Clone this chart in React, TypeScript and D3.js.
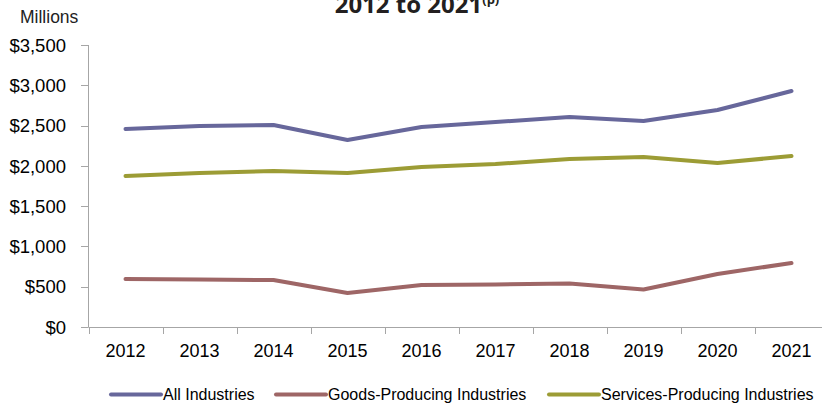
import React from "react";
import * as d3 from "d3";

const years = ["2012", "2013", "2014", "2015", "2016", "2017", "2018", "2019", "2020", "2021"];
const allIndustries = [2457, 2495, 2507, 2321, 2482, 2544, 2606, 2557, 2693, 2929];
const goodsProducing = [596, 590, 583, 422, 521, 527, 540, 465, 658, 794];
const servicesProducing = [1874, 1911, 1936, 1911, 1986, 2023, 2085, 2110, 2035, 2122];
const yTicks = [0, 500, 1000, 1500, 2000, 2500, 3000, 3500];
const seriesNames = ["All Industries", "Goods-Producing Industries", "Services-Producing Industries"];
const seriesColors = ["#67679B", "#9E6666", "#9C9C35"];

const W = 822;
const H = 403;

export default function App() {
  const x = d3.scaleBand<string>().domain(years).range([88.5, 828.5]);
  const y = d3.scaleLinear().domain([0, 3500]).range([327, 45]);
  const line = d3
    .line<number>()
    .x((_, i) => (x(years[i]) as number) + x.bandwidth() / 2)
    .y((d) => y(d));
  const series = [allIndustries, goodsProducing, servicesProducing];
  const fmt = (v: number) => "$" + d3.format(",")(v);
  const legendX = [111, 276, 549];
  const axisColor = "#A6A6A6";
  const font = "Liberation Sans, Arial, sans-serif";

  return (
    <svg width={W} height={H} style={{ position: "absolute", left: 0, top: 0 }} fontFamily={font}>
      <text x={417} y={13} textAnchor="middle" fontFamily="Open Sans, sans-serif" fontWeight={700} fontSize={24} fill="#231F20">
        2012 to 2021
        <tspan fontSize={13} dy={-9}>(p)</tspan>
      </text>
      <text x={20} y={23} fontSize={17.5} fill="#222">Millions</text>
      {/* y axis */}
      <line x1={88.5} x2={88.5} y1={45} y2={327} stroke={axisColor} />
      {yTicks.map((t) => (
        <g key={t}>
          <line x1={81} x2={88.5} y1={Math.round(y(t)) + 0.5} y2={Math.round(y(t)) + 0.5} stroke={axisColor} />
          <text x={66} y={y(t)} dy="0.36em" textAnchor="end" fontSize={18.5} fill="#000">
            {fmt(t)}
          </text>
        </g>
      ))}
      {/* x axis */}
      <line x1={88.5} x2={W} y1={327.5} y2={327.5} stroke={axisColor} />
      {years.map((yr) => (
        <g key={yr}>
          <line
            x1={Math.round(x(yr) as number) + 0.5}
            x2={Math.round(x(yr) as number) + 0.5}
            y1={327.5}
            y2={334}
            stroke={axisColor}
          />
          <text x={(x(yr) as number) + x.bandwidth() / 2} y={351} dy="0.36em" textAnchor="middle" fontSize={18} fill="#000">
            {yr}
          </text>
        </g>
      ))}
      {series.map((s, i) => (
        <path key={i} d={line(s) || ""} fill="none" stroke={seriesColors[i]} strokeWidth={4} strokeLinecap="round" strokeLinejoin="round" />
      ))}
      {/* legend */}
      {seriesNames.map((n, i) => (
        <g key={n}>
          <line x1={legendX[i]} x2={legendX[i] + 50} y1={394.5} y2={394.5} stroke={seriesColors[i]} strokeWidth={4} strokeLinecap="round" />
          <text x={legendX[i] + 52} y={394} dy="0.36em" fontSize={16} fill="#000">
            {n}
          </text>
        </g>
      ))}
    </svg>
  );
}
